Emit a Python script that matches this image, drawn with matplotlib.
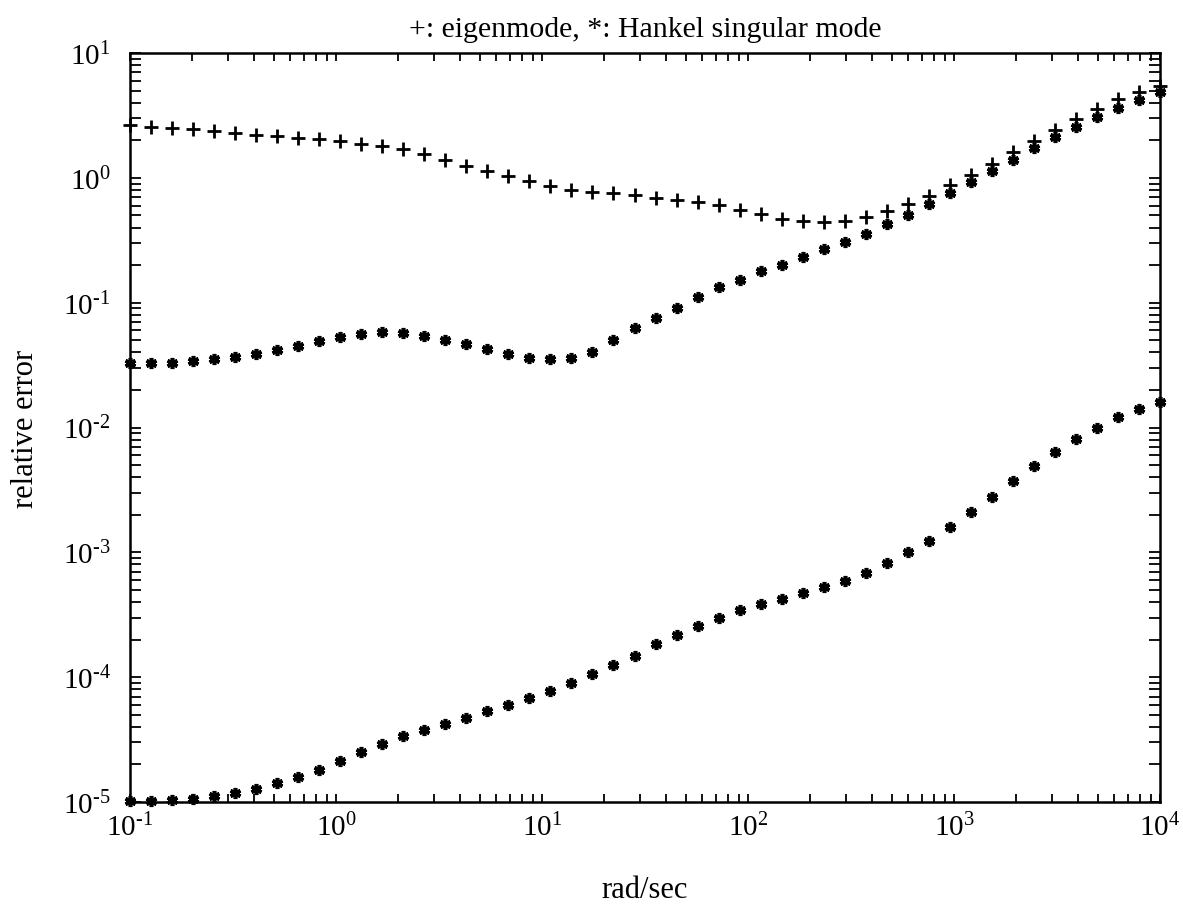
import numpy as np
import matplotlib
matplotlib.use("Agg")
import matplotlib.pyplot as plt
from matplotlib.ticker import FixedLocator, FuncFormatter, NullFormatter

plt.rcParams['font.family'] = ['Liberation Serif', 'DejaVu Serif']
plt.rcParams['mathtext.fontset'] = 'custom'
plt.rcParams['mathtext.rm'] = 'Liberation Serif'
plt.rcParams['mathtext.it'] = 'Liberation Serif:italic'
plt.rcParams['mathtext.bf'] = 'Liberation Serif:bold'

# frequency grid (rad/sec): 50 log-spaced points from 1e-1 to 1e4
freq = np.logspace(-1, 4, 50)

eigenmode_err = [2.64, 2.56, 2.50, 2.47, 2.38, 2.29, 2.22, 2.17, 2.09, 2.03,
                 1.97, 1.88, 1.79, 1.69, 1.54, 1.39, 1.25, 1.14, 1.04, 0.94,
                 0.86, 0.80, 0.77, 0.75, 0.73, 0.695, 0.667, 0.638, 0.601, 0.552,
                 0.510, 0.469, 0.449, 0.441, 0.455, 0.483, 0.539, 0.616, 0.717, 0.869,
                 1.06, 1.30, 1.60, 1.98, 2.41, 2.94, 3.57, 4.26, 4.89, 5.46]

hankel_err_a = [0.0327, 0.0327, 0.0331, 0.0341, 0.0354, 0.0367, 0.0386, 0.0418, 0.0450, 0.0491,
                0.0528, 0.0558, 0.0579, 0.0572, 0.0544, 0.0506, 0.0464, 0.0423, 0.0389, 0.0363,
                0.0352, 0.0361, 0.0406, 0.050, 0.0627, 0.0755, 0.0913, 0.1115, 0.133, 0.153,
                0.178, 0.202, 0.233, 0.267, 0.308, 0.357, 0.423, 0.504, 0.616, 0.752,
                0.924, 1.14, 1.40, 1.72, 2.11, 2.56, 3.09, 3.64, 4.20, 4.83]

hankel_err_b = [1.012e-5, 1.025e-5, 1.038e-5, 1.064e-5, 1.11e-5, 1.18e-5, 1.27e-5, 1.41e-5, 1.59e-5, 1.82e-5,
                2.13e-5, 2.52e-5, 2.94e-5, 3.39e-5, 3.76e-5, 4.23e-5, 4.73e-5, 5.32e-5, 5.98e-5, 6.81e-5,
                7.80e-5, 9.05e-5, 1.057e-4, 1.256e-4, 1.485e-4, 1.85e-4, 2.19e-4, 2.59e-4, 2.98e-4, 3.46e-4,
                3.84e-4, 4.26e-4, 4.76e-4, 5.25e-4, 5.90e-4, 6.88e-4, 8.22e-4, 1.0e-3, 1.24e-3, 1.61e-3,
                2.10e-3, 2.75e-3, 3.70e-3, 4.88e-3, 6.31e-3, 8.07e-3, 1.0e-2, 1.21e-2, 1.40e-2, 1.60e-2]

x_exponents = [-1, 0, 1, 2, 3, 4]
y_exponents = [-5, -4, -3, -2, -1, 0, 1]

title = "+: eigenmode, *: Hankel singular mode"
xlabel = "rad/sec"
ylabel = "relative error"


def minor_ticks(exps):
    return [m * 10.0 ** e for e in exps[:-1] for m in range(2, 10)]


def build(use_text_hyphen):
    fig = plt.figure(figsize=(11.83, 9.12), dpi=100)
    ax = fig.add_axes([0.1099, 0.1195, 0.8707, 0.8213])

    asterisk = (6, 2, 0)
    ax.plot(freq, eigenmode_err, linestyle='none', marker='+', markersize=10.5,
            markeredgewidth=2.0, color='black', clip_on=False)
    ax.plot(freq, hankel_err_a, linestyle='none', marker=asterisk, markersize=8,
            markeredgewidth=2.6, color='black', clip_on=False)
    ax.plot(freq, hankel_err_b, linestyle='none', marker=asterisk, markersize=8,
            markeredgewidth=2.6, color='black', clip_on=False)

    ax.set_xscale('log')
    ax.set_yscale('log')
    ax.set_xlim(10.0 ** x_exponents[0], 10.0 ** x_exponents[-1])
    ax.set_ylim(10.0 ** y_exponents[0], 10.0 ** y_exponents[-1])

    def fmt(v, pos):
        e = int(round(np.log10(v)))
        if e < 0 and use_text_hyphen:
            return r'$\mathregular{10^{\text{-}%d}}$' % (-e)
        return r'$\mathregular{10^{%d}}$' % e

    ax.xaxis.set_major_locator(FixedLocator([10.0 ** e for e in x_exponents]))
    ax.yaxis.set_major_locator(FixedLocator([10.0 ** e for e in y_exponents]))
    ax.xaxis.set_minor_locator(FixedLocator(minor_ticks(x_exponents)))
    ax.yaxis.set_minor_locator(FixedLocator(minor_ticks(y_exponents)))
    for axis in (ax.xaxis, ax.yaxis):
        axis.set_major_formatter(FuncFormatter(fmt))
        axis.set_minor_formatter(NullFormatter())

    ax.tick_params(which='both', direction='in', top=True, right=True,
                   width=1.3, labelsize=21, color='black')
    ax.tick_params(axis='x', which='both', length=6)
    ax.tick_params(axis='y', which='both', length=8)
    ax.tick_params(axis='x', pad=8)
    ax.tick_params(axis='y', pad=14)

    for s in ax.spines.values():
        s.set_linewidth(1.8)

    ax.set_title(title, fontsize=21.5, pad=12)
    ax.set_xlabel(xlabel, fontsize=22, labelpad=24)
    ax.set_ylabel(ylabel, fontsize=22, labelpad=16)
    return fig


try:
    fig = build(True)
    fig.savefig("out.png", dpi=100)
except Exception:
    plt.close('all')
    fig = build(False)
    fig.savefig("out.png", dpi=100)
